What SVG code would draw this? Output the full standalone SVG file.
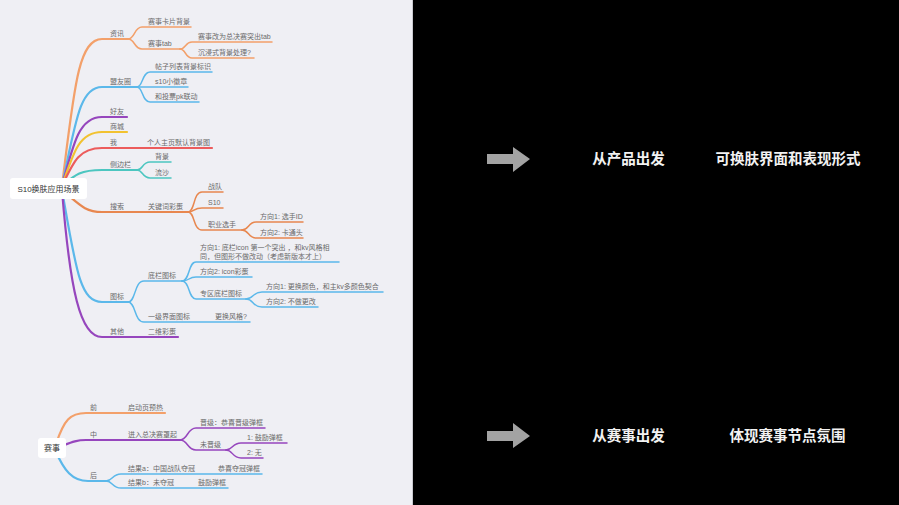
<svg xmlns="http://www.w3.org/2000/svg" width="899" height="505" viewBox="0 0 899 505">
<style>
.t{font-family:"Liberation Sans","Noto Sans CJK SC",sans-serif;font-size:7px;fill:#6a6a6a}
.rt{font-family:"Liberation Sans","Noto Sans CJK SC",sans-serif;font-size:8px;fill:#333;text-anchor:middle}
.big{font-family:"Liberation Sans","Noto Sans CJK SC",sans-serif;font-size:14.5px;font-weight:bold;fill:#f2f2f2;text-anchor:middle}
.c{fill:none;stroke-linecap:round;stroke-linejoin:round}
.m{stroke-width:2.2}
.s{stroke-width:1.5}
.or{stroke:#f3a06a}
.or2{stroke:#e8874f}
.bl{stroke:#5bb8ea}
.pu{stroke:#9646bd}
.ye{stroke:#f2c230}
.re{stroke:#ec5c5c}
.te{stroke:#4cc6c0}
.node{fill:#fff}
.arrow{fill:#a3a3a3}
</style>
<rect x="0" y="0" width="899" height="505" fill="#000"/>
<rect x="0" y="0" width="413" height="505" fill="#efeff4"/>
<line x1="412.5" y1="0" x2="412.5" y2="505" stroke="#c9c9cf" stroke-width="1"/>

<g id="connectors">
  <!-- map 1 main branches -->
  <path class="c m or" d="M62 186 C74 90 78 39 102 39 H128"/>
  <path class="c m bl" d="M62 186 C76 120 80 87 102 87 H137"/>
  <path class="c m pu" d="M62 186 C74 140 80 117 102 117 H127"/>
  <path class="c m ye" d="M62 186 C74 150 80 132 102 132 H127"/>
  <path class="c m re" d="M62 186 C74 160 80 148 102 148 H212"/>
  <path class="c m te" d="M62 186 C75 175 80 170 102 170 H137"/>
  <path class="c m or2" d="M62 190 C80 205 85 212 102 212 H188"/>
  <path class="c m bl" d="M62 190 C76 270 80 302 102 302 H128"/>
  <path class="c m pu" d="M62 190 C70 290 80 337 102 337 H178"/>
  <!-- 资讯 -->
  <path class="c s or" d="M128 39 C135 39 134 27 142 27 H191"/>
  <path class="c s or" d="M128 39 C135 39 134 49 142 49 H180"/>
  <path class="c s or" d="M180 49 C186 49 185 42 192 42 H272"/>
  <path class="c s or" d="M180 49 C186 49 185 58 192 58 H254"/>
  <!-- 盟友圈 -->
  <path class="c s bl" d="M137 87 C143 87 142 72 150 72 H212"/>
  <path class="c s bl" d="M137 87 H188"/>
  <path class="c s bl" d="M137 87 C143 87 142 102 150 102 H199"/>
  <!-- 侧边栏 -->
  <path class="c s te" d="M137 170 C143 170 142 162 150 162 H171"/>
  <path class="c s te" d="M137 170 C143 170 142 178 150 178 H171"/>
  <!-- 搜索 -->
  <path class="c s or2" d="M188 212 C195 212 193 192 202 192 H223"/>
  <path class="c s or2" d="M188 212 C195 212 193 208 202 208 H223"/>
  <path class="c s or2" d="M188 212 C195 212 193 230 202 230 H242"/>
  <path class="c s or2" d="M242 230 C249 230 248 222 256 222 H303"/>
  <path class="c s or2" d="M242 230 C249 230 248 238 256 238 H303"/>
  <!-- 图标 -->
  <path class="c s bl" d="M128 302 C136 302 134 281 144 281 H182"/>
  <path class="c s bl" d="M128 302 C136 302 134 322 144 322 H250"/>
  <path class="c s bl" d="M182 281 C190 281 188 262 196 262 H339"/>
  <path class="c s bl" d="M182 281 C190 281 188 277 196 277 H252"/>
  <path class="c s bl" d="M182 281 C190 281 188 299 196 299 H246"/>
  <path class="c s bl" d="M246 299 C254 299 252 292 262 292 H383"/>
  <path class="c s bl" d="M246 299 C254 299 252 307 262 307 H318"/>
  <!-- map 2 -->
  <path class="c m or" d="M56 444 C64 420 70 413 86 413 H165"/>
  <path class="c m pu" d="M56 448 C70 443 75 440 86 440 H180"/>
  <path class="c m bl" d="M56 452 C64 470 72 481 88 481 H106"/>
  <path class="c s pu" d="M180 440 C188 440 187 428 196 428 H265"/>
  <path class="c s pu" d="M180 440 C188 440 187 450 196 450 H226"/>
  <path class="c s pu" d="M226 450 C233 450 232 443 241 443 H287"/>
  <path class="c s pu" d="M226 450 C233 450 232 458 241 458 H263"/>
  <path class="c s bl" d="M106 481 C113 481 112 474 121 474 H262"/>
  <path class="c s bl" d="M106 481 C113 481 112 488 121 488 H228"/>
</g>

<g id="root1"><rect class="node" x="10" y="178" width="77" height="21" rx="3"/><text class="rt" x="48.5" y="191.5">S10换肤应用场景</text></g>
<g id="n-zixun"><text class="t" x="110" y="36">资讯</text></g>
<g id="n-card"><text class="t" x="148" y="24">赛事卡片背景</text></g>
<g id="n-tab"><text class="t" x="148" y="46">赛事tab</text></g>
<g id="n-tab1"><text class="t" x="198" y="39">赛事改为总决赛突出tab</text></g>
<g id="n-tab2"><text class="t" x="198" y="55">沉浸式背景处理?</text></g>
<g id="n-mengyou"><text class="t" x="110" y="84">盟友圈</text></g>
<g id="n-tiezi"><text class="t" x="155" y="69">帖子列表背景标识</text></g>
<g id="n-s10badge"><text class="t" x="155" y="84">s10小徽章</text></g>
<g id="n-pk"><text class="t" x="155" y="99">和投票pk联动</text></g>
<g id="n-haoyou"><text class="t" x="110" y="114">好友</text></g>
<g id="n-shangcheng"><text class="t" x="110" y="129">商城</text></g>
<g id="n-wo"><text class="t" x="110" y="145">我</text></g>
<g id="n-home"><text class="t" x="147" y="145">个人主页默认背景图</text></g>
<g id="n-side"><text class="t" x="110" y="167">侧边栏</text></g>
<g id="n-bg"><text class="t" x="155" y="159">背景</text></g>
<g id="n-sand"><text class="t" x="155" y="175">流沙</text></g>
<g id="n-search"><text class="t" x="110" y="209">搜索</text></g>
<g id="n-kw"><text class="t" x="148" y="209">关键词彩蛋</text></g>
<g id="n-team"><text class="t" x="208" y="189">战队</text></g>
<g id="n-s10"><text class="t" x="208" y="205">S10</text></g>
<g id="n-player"><text class="t" x="208" y="227">职业选手</text></g>
<g id="n-p1"><text class="t" x="260" y="219">方向1: 选手ID</text></g>
<g id="n-p2"><text class="t" x="260" y="235">方向2: 卡通头</text></g>
<g id="n-icon"><text class="t" x="110" y="299">图标</text></g>
<g id="n-tabbar"><text class="t" x="148" y="278">底栏图标</text></g>
<g id="n-tb1"><text class="t" x="200" y="250">方向1: 底栏icon  第一个突出 ，和kv风格相</text><text class="t" x="200" y="259">同，但图形不做改动（考虑新版本才上）</text></g>
<g id="n-tb2"><text class="t" x="200" y="274">方向2: icon彩蛋</text></g>
<g id="n-zone"><text class="t" x="200" y="296">专区底栏图标</text></g>
<g id="n-z1"><text class="t" x="266" y="289">方向1: 更换颜色，和主kv多颜色契合</text></g>
<g id="n-z2"><text class="t" x="266" y="304">方向2: 不做更改</text></g>
<g id="n-level1"><text class="t" x="148" y="319">一级界面图标</text></g>
<g id="n-style"><text class="t" x="215" y="319">更换风格?</text></g>
<g id="n-other"><text class="t" x="110" y="334">其他</text></g>
<g id="n-qr"><text class="t" x="148" y="334">二维彩蛋</text></g>

<g id="root2"><rect class="node" x="38" y="438" width="28" height="20" rx="3"/><text class="rt" x="52" y="451">赛事</text></g>
<g id="n-qian"><text class="t" x="90" y="410">前</text></g>
<g id="n-splash"><text class="t" x="128" y="410">启动页预热</text></g>
<g id="n-zhong"><text class="t" x="90" y="437">中</text></g>
<g id="n-final"><text class="t" x="128" y="437">进入总决赛罩起</text></g>
<g id="n-promo"><text class="t" x="200" y="425">晋级：恭喜晋级弹框</text></g>
<g id="n-nopromo"><text class="t" x="200" y="447">未晋级</text></g>
<g id="n-np1"><text class="t" x="247" y="440">1:  鼓励弹框</text></g>
<g id="n-np2"><text class="t" x="247" y="455">2: 无</text></g>
<g id="n-hou"><text class="t" x="90" y="478">后</text></g>
<g id="n-ra"><text class="t" x="128" y="471">结果a：中国战队夺冠</text></g>
<g id="n-ra1"><text class="t" x="218" y="471">恭喜夺冠弹框</text></g>
<g id="n-rb"><text class="t" x="128" y="485">结果b：未夺冠</text></g>
<g id="n-rb1"><text class="t" x="198" y="485">鼓励弹框</text></g>

<g id="arrow1"><polygon class="arrow" points="487,154 513,154 513,147 530,159 513,172 513,164 487,164"/></g>
<g id="label1a"><text class="big" x="628.5" y="164">从产品出发</text></g>
<g id="label1b"><text class="big" x="788" y="164">可换肤界面和表现形式</text></g>
<g id="arrow2"><polygon class="arrow" points="487,431 513,431 513,423 530,436 513,448 513,441 487,441"/></g>
<g id="label2a"><text class="big" x="628.5" y="441">从赛事出发</text></g>
<g id="label2b"><text class="big" x="787.5" y="441">体现赛事节点氛围</text></g>
</svg>
